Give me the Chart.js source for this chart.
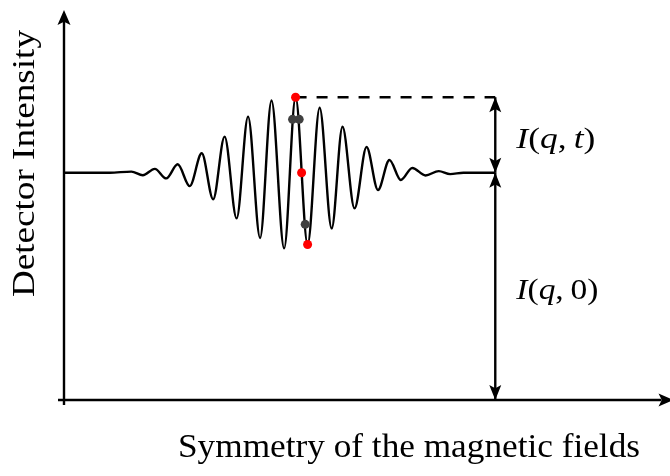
<!DOCTYPE html>
<html><head><meta charset="utf-8">
<script src="https://cdn.jsdelivr.net/npm/chart.js@4"></script>
<style>html,body{margin:0;padding:0;background:#fff;}canvas{display:block;}</style>
</head><body>
<canvas id="c" width="670" height="476"></canvas>
<script>
// ---- data (x: field symmetry, y: intensity, baseline = 1) ----
const waveX = [0, 7.6, 11.2, 13.1, 15.1, 17.0, 18.9, 20.9, 22.9, 24.8, 26.7, 28.7, 30.6, 32.6, 34.5, 36.6, 38.5, 40.5, 42.5, 44.5, 46.3, 48.3, 50.3, 52.2, 54.1, 56.0, 57.9, 60.1, 62.3, 64.2, 66.4, 71.7];
const waveY = [1.0, 1.0, 1.005, 0.989, 1.017, 0.975, 1.037, 0.941, 1.086, 0.883, 1.159, 0.799, 1.247, 0.713, 1.318, 0.667, 1.332, 0.684, 1.286, 0.755, 1.202, 0.843, 1.113, 0.924, 1.056, 0.968, 1.021, 0.988, 1.007, 0.994, 1.0, 1.0];
const redX = [38.5, 39.5, 40.5];
const redY = [1.332, 1.0, 0.684];
const greyX = [38.0, 39.1, 40.1];
const greyY = [1.235, 1.235, 0.773];
const peakX = 38.5, peakLevel = 1.332, baseLevel = 1.0, zeroLevel = 0, markerX = 71.7;
const xMax = 100, yMax = 1.716;
const xTitle = 'Symmetry of the magnetic fields';
const yTitle = 'Detector Intensity';
const labelTop = [['I', true], ['(', false], ['q', true], [',', false], ['\u2009', false], ['t', true], [')', false]];
const labelBottom = [['I', true], ['(', false], ['q', true], [',', false], ['\u2009', false], ['0', false], [')', false]];
const labelTopPos = [75.2, 1.109];
const labelBottomPos = [75.2, 0.444];

const SERIF = '"Liberation Serif", "Times New Roman", serif';
const LW = 2.4;

function pts(xs, ys) { return xs.map((x, i) => ({ x: x, y: ys[i] })); }

function arrowHead(ctx, x, y, ang, len, hw) {
  ctx.save();
  ctx.translate(x, y); ctx.rotate(ang);
  ctx.beginPath();
  ctx.moveTo(0, 0);
  ctx.quadraticCurveTo(-len * 0.45, hw * 0.45, -len, hw);
  ctx.lineTo(-len * 0.78, 0);
  ctx.lineTo(-len, -hw);
  ctx.quadraticCurveTo(-len * 0.45, -hw * 0.45, 0, 0);
  ctx.closePath();
  ctx.fill();
  ctx.restore();
}

function fitText(ctx, text, width) {
  const w = ctx.measureText(text).width;
  ctx.save(); ctx.scale(width / w, 1); ctx.fillText(text, 0, 0); ctx.restore();
}

function drawRuns(ctx, runs, x, y, size, width) {
  let total = 0;
  const ws = runs.map(r => { ctx.font = (r[1] ? 'italic ' : '') + size + 'px ' + SERIF; const w = ctx.measureText(r[0]).width; total += w; return w; });
  const s = width / total;
  ctx.save(); ctx.translate(x, y); ctx.scale(s, 1);
  let cx = 0;
  runs.forEach((r, i) => { ctx.font = (r[1] ? 'italic ' : '') + size + 'px ' + SERIF; ctx.fillText(r[0], cx, 0); cx += ws[i]; });
  ctx.restore();
}

const decor = {
  id: 'decor',
  afterDatasetsDraw(chart) {
    const ctx = chart.ctx, xs = chart.scales.x, ys = chart.scales.y;
    const x0 = xs.getPixelForValue(0), y0 = ys.getPixelForValue(0);
    const xEnd = xs.getPixelForValue(xMax), yTop = ys.getPixelForValue(yMax);
    ctx.save();
    ctx.strokeStyle = '#000'; ctx.fillStyle = '#000'; ctx.lineWidth = LW;
    // axes
    ctx.beginPath();
    ctx.moveTo(x0, y0 + 5); ctx.lineTo(x0, yTop + 8);
    ctx.moveTo(x0 - 6, y0); ctx.lineTo(xEnd - 4, y0);
    ctx.stroke();
    arrowHead(ctx, x0, yTop, -Math.PI / 2, 15, 6.5);
    arrowHead(ctx, xEnd + 8, y0, 0, 15, 6.5);
    // measurement arrows
    const mx = xs.getPixelForValue(markerX);
    const pPk = ys.getPixelForValue(peakLevel), pBase = ys.getPixelForValue(baseLevel), pZero = ys.getPixelForValue(zeroLevel);
    arrowHead(ctx, mx, pPk, -Math.PI / 2, 15, 6);
    arrowHead(ctx, mx, pBase, Math.PI / 2, 15, 6);
    arrowHead(ctx, mx, pBase, -Math.PI / 2, 15, 6);
    arrowHead(ctx, mx, pZero, Math.PI / 2, 15, 6);
    // labels
    ctx.textBaseline = 'alphabetic'; ctx.textAlign = 'left';
    drawRuns(ctx, labelTop, xs.getPixelForValue(labelTopPos[0]), ys.getPixelForValue(labelTopPos[1]), 30, 79);
    drawRuns(ctx, labelBottom, xs.getPixelForValue(labelBottomPos[0]), ys.getPixelForValue(labelBottomPos[1]), 30, 82);
    // titles
    ctx.font = '33px ' + SERIF;
    ctx.save(); ctx.translate(178, 457); fitText(ctx, xTitle, 462); ctx.restore();
    ctx.font = '32px ' + SERIF;
    ctx.save(); ctx.translate(34, 297); ctx.rotate(-Math.PI / 2); fitText(ctx, yTitle, 267); ctx.restore();
    ctx.restore();
  }
};

new Chart(document.getElementById('c'), {
  type: 'line',
  data: {
    datasets: [
      { label: 'red', type: 'scatter', data: pts(redX, redY), showLine: false, pointRadius: 4.5, pointBorderWidth: 0, backgroundColor: '#ff0000', borderColor: '#ff0000', order: 0 },
      { label: 'grey', type: 'scatter', data: pts(greyX, greyY), showLine: false, pointRadius: 4.5, pointBorderWidth: 0, backgroundColor: '#404040', borderColor: '#404040', order: 1 },
      { label: 'wave', data: pts(waveX, waveY), borderColor: '#000', borderWidth: LW, pointRadius: 0, cubicInterpolationMode: 'monotone', fill: false, order: 2 },
      { label: 'dash', data: [{ x: peakX, y: peakLevel }, { x: markerX, y: peakLevel }], borderColor: '#000', borderWidth: LW, borderDash: [11, 10], pointRadius: 0, order: 3 },
      { label: 'arrowTop', data: [{ x: markerX, y: peakLevel }, { x: markerX, y: baseLevel }], borderColor: '#000', borderWidth: LW, pointRadius: 0, order: 4 },
      { label: 'arrowBottom', data: [{ x: markerX, y: baseLevel }, { x: markerX, y: zeroLevel }], borderColor: '#000', borderWidth: LW, pointRadius: 0, order: 5 }
    ]
  },
  options: {
    responsive: false, animation: false, devicePixelRatio: 1,
    layout: { padding: { left: 64, right: 2, top: 10, bottom: 76 } },
    plugins: { legend: { display: false }, tooltip: { enabled: false } },
    scales: {
      x: { type: 'linear', min: 0, max: xMax, display: false },
      y: { type: 'linear', min: 0, max: yMax, display: false }
    }
  },
  plugins: [decor]
});
</script>
</body></html>
